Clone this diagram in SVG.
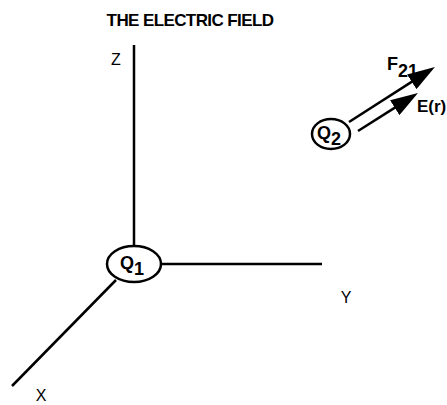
<svg xmlns="http://www.w3.org/2000/svg" width="447" height="405" viewBox="0 0 447 405">
<style>
.ax{stroke:#000;stroke-width:2.5;fill:none}
.nd{stroke:#000;stroke-width:2.5;fill:#fff}
.t{font-family:"Liberation Sans",Arial,sans-serif;fill:#000}
.b{font-weight:bold}
</style>
<defs>
<marker id="ah" markerWidth="11" markerHeight="7" refX="4" refY="3.5" orient="auto" markerUnits="strokeWidth">
<path d="M0,0 L11,3.5 L0,7 Z" fill="#000"/>
</marker>
</defs>
<rect width="447" height="405" fill="#fff"/>
<text class="t b" x="190" y="26" font-size="17" text-anchor="middle" letter-spacing="-0.6">THE ELECTRIC FIELD</text>
<g id="connectors">
<line class="ax" x1="134" y1="45" x2="134" y2="246"/>
<line class="ax" x1="161" y1="264" x2="322" y2="264"/>
<line class="ax" x1="116" y1="280" x2="12" y2="386"/>
<line class="ax" x1="349" y1="122" x2="420.2" y2="76.4" marker-end="url(#ah)"/>
<line class="ax" x1="358" y1="131" x2="403.2" y2="102.4" marker-end="url(#ah)"/>
</g>
<g id="axis-labels">
<text class="t" x="116" y="65" font-size="16" text-anchor="middle">Z</text>
<text class="t" x="346" y="303" font-size="16" text-anchor="middle">Y</text>
<text class="t" x="41" y="401" font-size="16" text-anchor="middle">X</text>
</g>
<g id="Q1">
<ellipse class="nd" cx="134" cy="264" rx="27" ry="18"/>
<text class="t b" x="120" y="269" font-size="18">Q<tspan dy="6">1</tspan></text>
</g>
<g id="Q2">
<ellipse class="nd" cx="331" cy="134" rx="19" ry="15"/>
<text class="t b" x="317" y="139" font-size="18">Q<tspan dy="6">2</tspan></text>
</g>
<g id="labels">
<text class="t b" x="387" y="70" font-size="18">F<tspan dy="7">21</tspan></text>
<text class="t b" x="417" y="112" font-size="17">E(r)</text>
</g>
</svg>
